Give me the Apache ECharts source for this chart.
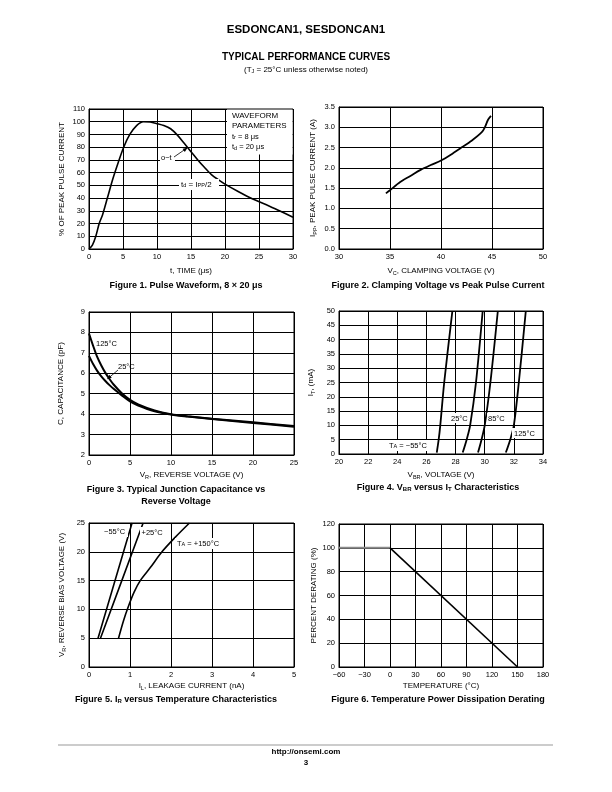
<!DOCTYPE html>
<html><head><meta charset="utf-8">
<script src="https://cdn.jsdelivr.net/npm/echarts@6/dist/echarts.min.js"></script>
<style>html,body{margin:0;padding:0;background:#fff}#c{width:612px;height:792px}</style>
</head><body><div id="c"></div>
<script>
// ---------- Figure 1: pulse waveform ----------
const fig1Time = [0,0.5,1,1.5,2,2.7,3.5,4.3,5.1,6,7,8,9,10,11,12,13,14,15,16,17,18,19,20,22,24,26,28,30];
const fig1Pct  = [0,3,10,20,27,40,55,68,80,90,97,100,99.8,98.5,97,94.5,89.5,83,76.5,70,64,58.5,54.5,51,45,39.5,35,30,25];
// ---------- Figure 2: clamping voltage vs Ipp ----------
const fig2Vc  = [34.6,35,36,37,38,39,40,41,42,43,44,44.3,44.6,44.9];
const fig2Ipp = [1.37,1.45,1.65,1.8,1.95,2.07,2.18,2.33,2.5,2.67,2.88,3.0,3.18,3.28];
// ---------- Figure 3: capacitance ----------
const fig3Vr   = [0,0.5,1,1.5,2,2.5,3,4,5,6,8,10,12,15,20,25];
const fig3C125 = [7.95,7.35,6.8,6.38,6.02,5.72,5.45,5.02,4.7,4.48,4.18,4.0,3.9,3.78,3.6,3.42];
const fig3C25  = [6.85,6.45,6.12,5.85,5.62,5.42,5.24,4.92,4.62,4.42,4.14,3.98,3.88,3.76,3.57,3.38];
// ---------- Figure 4: VBR vs IT ----------
const fig4It     = [0.5,5,10,25,50];
const fig4Vm55   = [26.71,26.84,26.95,27.22,27.78];
const fig4V25    = [28.49,28.76,29.0,29.4,29.86];
const fig4V85    = [29.54,29.78,30.0,30.39,30.9];
const fig4V125   = [31.45,31.75,32.0,32.34,32.82];
// ---------- Figure 5: leakage ----------
const fig5Vm55 = [5,15,25];
const fig5Im55 = [0.22,0.635,1.05];
const fig5V25  = [5,15,25];
const fig5I25  = [0.28,0.8,1.32];
const fig5V150 = [5,8,10.5,13,15,17.3,20,22.5,25];
const fig5I150 = [0.72,0.84,0.96,1.1,1.25,1.5,1.78,2.1,2.45];
// ---------- Figure 6: derating ----------
const fig6FlatT = [-60,0];
const fig6FlatP = [100,100];
const fig6DerT  = [0,150];
const fig6DerP  = [100,0];

const FONT = '"Liberation Sans", Arial, Helvetica, sans-serif';
const zip = (a,b) => a.map((v,i)=>[v,b[i]]);
const SUB = {sub:{fontSize:5.5, verticalAlign:'bottom', lineHeight:5, fontFamily:FONT, color:'#000'}};
const SUBB = {sub:{fontSize:6, fontWeight:'bold', verticalAlign:'bottom', lineHeight:5, fontFamily:FONT, color:'#000'}};

const grids = [
  {left:89, top:109, width:204, height:140},
  {left:339, top:107, width:204, height:142},
  {left:89, top:312, width:205, height:143},
  {left:339, top:311, width:204, height:143},
  {left:89, top:523, width:205, height:144},
  {left:339, top:524, width:204, height:143}
].map(g=>Object.assign({show:true, borderColor:'#000', borderWidth:1, containLabel:false}, g));

function axis(idx, min, max, interval, name, gap, fmt, extra){
  return Object.assign({
    type:'value', gridIndex:idx, min, max, interval,
    axisLine:{show:true, onZero:false, lineStyle:{color:'#000', width:1}},
    axisTick:{show:false},
    splitLine:{show:true, lineStyle:{color:'#000', width:1}},
    axisLabel:{fontSize:7.5, color:'#000', fontFamily:FONT, margin:4, showMinLabel:true, showMaxLabel:true, hideOverlap:false,
      formatter: fmt || (v=>String(v).replace('-', '\u2212'))},
    name, nameLocation:'middle', nameGap:gap,
    nameTextStyle:{fontSize:8, color:'#000', fontFamily:FONT, lineHeight:10, rich:SUB}
  }, extra||{});
}

const xAxes = [
  axis(0,0,30,5,'t, TIME (\u03bcs)',17),
  axis(1,30,50,5,'V{sub|C}, CLAMPING VOLTAGE (V)',17),
  axis(2,0,25,5,'V{sub|R}, REVERSE VOLTAGE (V)',15),
  axis(3,20,34,2,'V{sub|BR}, VOLTAGE (V)',16),
  axis(4,0,5,1,'I{sub|L}, LEAKAGE CURRENT (nA)',14),
  axis(5,-60,180,30,'TEMPERATURE (\u00b0C)',14)
];
const yAxes = [
  axis(0,0,110,10,'% OF PEAK PULSE CURRENT',22),
  axis(1,0,3.5,0.5,'I{sub|PP}, PEAK PULSE CURRENT (A)',21, v=>v.toFixed(1)),
  axis(2,2,9,1,'C, CAPACITANCE (pF)',23),
  axis(3,0,50,5,'I{sub|T}, (mA)',23),
  axis(4,0,25,5,'V{sub|R}, REVERSE BIAS VOLTAGE (V)',22),
  axis(5,0,120,20,'PERCENT DERATING (%)',20)
];

function line(idx, data, opts){
  return Object.assign({type:'line', xAxisIndex:idx, yAxisIndex:idx, data, showSymbol:false, symbol:'none',
    smooth:0.3, lineStyle:{color:'#000', width:1.6}, silent:true, animation:false, z:3}, opts||{});
}

const series = [
  line(0, zip(fig1Time, fig1Pct)),
  line(1, zip(fig2Vc, fig2Ipp), {lineStyle:{color:'#000', width:1.8}}),
  line(2, zip(fig3Vr, fig3C125), {lineStyle:{color:'#000', width:2}}),
  line(2, zip(fig3Vr, fig3C25), {lineStyle:{color:'#000', width:2}}),
  line(3, zip(fig4Vm55, fig4It), {lineStyle:{color:'#000', width:1.8}}),
  line(3, zip(fig4V25, fig4It), {lineStyle:{color:'#000', width:1.8}}),
  line(3, zip(fig4V85, fig4It), {lineStyle:{color:'#000', width:1.8}}),
  line(3, zip(fig4V125, fig4It), {lineStyle:{color:'#000', width:1.8}}),
  line(4, zip(fig5Im55, fig5Vm55), {smooth:false}),
  line(4, zip(fig5I25, fig5V25), {smooth:false}),
  line(4, zip(fig5I150, fig5V150)),
  line(5, zip(fig6FlatT, fig6FlatP), {smooth:false, lineStyle:{color:'#8a8a8a', width:2}}),
  line(5, zip(fig6DerT, fig6DerP), {smooth:false, lineStyle:{color:'#000', width:1.6}})
];

function txt(x, y, text, size, opts){
  const o = opts||{};
  return {type:'text', x, y, z:20, silent:true, style:{text, fill:'#000', fontSize:size, fontFamily:FONT,
    fontWeight:o.bold?'bold':'normal', align:o.align||'left', verticalAlign:'middle',
    rich:o.bold?SUBB:SUB}};
}
function rect(x,y,w,h){ return {type:'rect', z:15, silent:true, shape:{x,y,width:w,height:h}, style:{fill:'#fff'}}; }
function seg(x1,y1,x2,y2,w){ return {type:'line', z:20, silent:true, shape:{x1,y1,x2,y2}, style:{stroke:'#000', lineWidth:w||0.8}}; }
function head(x,y,x0,y0){
  const a=Math.atan2(y-y0,x-x0), L=5, s=0.4;
  return {type:'polygon', z:20, silent:true, shape:{points:[[x,y],[x-L*Math.cos(a-s),y-L*Math.sin(a-s)],[x-L*Math.cos(a+s),y-L*Math.sin(a+s)]]}, style:{fill:'#000'}};
}

const graphics = [
  txt(306,30,'ESDONCAN1, SESDONCAN1',11.5,{bold:true,align:'center'}),
  txt(306,57,'TYPICAL PERFORMANCE CURVES',10,{bold:true,align:'center'}),
  txt(306,70,'(T{sub|J} = 25\u00b0C unless otherwise noted)',8,{align:'center'}),
  {type:'line', z:20, silent:true, shape:{x1:58,y1:745,x2:553,y2:745}, style:{stroke:'#999', lineWidth:1.2}},
  txt(306,752,'http://onsemi.com',8,{bold:true,align:'center'}),
  txt(306,763,'3',8,{bold:true,align:'center'}),
  // captions
  txt(186,286,'Figure 1. Pulse Waveform, 8 \u00d7 20 \u03bcs',9,{bold:true,align:'center'}),
  txt(438,286,'Figure 2. Clamping Voltage vs Peak Pulse Current',9,{bold:true,align:'center'}),
  txt(176,490,'Figure 3. Typical Junction Capacitance vs',9,{bold:true,align:'center'}),
  txt(176,502,'Reverse Voltage',9,{bold:true,align:'center'}),
  txt(438,488,'Figure 4. V{sub|BR} versus I{sub|T} Characteristics',9,{bold:true,align:'center'}),
  txt(176,700,'Figure 5. I{sub|R} versus Temperature Characteristics',9,{bold:true,align:'center'}),
  txt(438,700,'Figure 6. Temperature Power Dissipation Derating',9,{bold:true,align:'center'}),
  // fig1 annotations
  rect(227,109.5,65.5,45),
  txt(232,116,'WAVEFORM',8),
  txt(232,126,'PARAMETERS',8),
  txt(232,136.5,'t{sub|r} = 8 \u03bcs',7.5),
  txt(232,147,'t{sub|d} = 20 \u03bcs',7.5),
  rect(160,153,15,9),
  txt(161,157.5,'o\u2212t',7.5),
  seg(174,157,187,148), head(187.5,147.8,174,157),
  rect(179,179,40,11),
  txt(181,184.5,'t{sub|d} = I{sub|PP}/2',8),
  // fig3 annotations
  txt(96,344,'125\u00b0C',7.5),
  txt(118,367,'25\u00b0C',7.5),
  seg(118,370,108,378.5), head(107,379.3,118,370),
  // fig4 annotations
  rect(449,413,20,10), txt(451,418.5,'25\u00b0C',7.5),
  rect(487,413,18,10), txt(488,418.5,'85\u00b0C',7.5),
  rect(512,428,27,10), txt(514,433.5,'125\u00b0C',7.5),
  rect(387,440,46,11), txt(389,445.7,'T{sub|A} = \u221255\u00b0C',7.5),
  // fig5 annotations
  rect(103,527,25,10), txt(104,532,'\u221255\u00b0C',7.5),
  rect(140,527,26,10), txt(141.5,532.5,'+25\u00b0C',7.5),
  rect(175,538,49,11), txt(177,543.5,'T{sub|A} = +150\u00b0C',7.5)
];

const chart = echarts.init(document.getElementById('c'), null, {renderer:'canvas'});
chart.setOption({
  animation:false,
  backgroundColor:'#fff',
  textStyle:{fontFamily:FONT},
  grid:grids, xAxis:xAxes, yAxis:yAxes, series, graphic:graphics
});
</script></body></html>
